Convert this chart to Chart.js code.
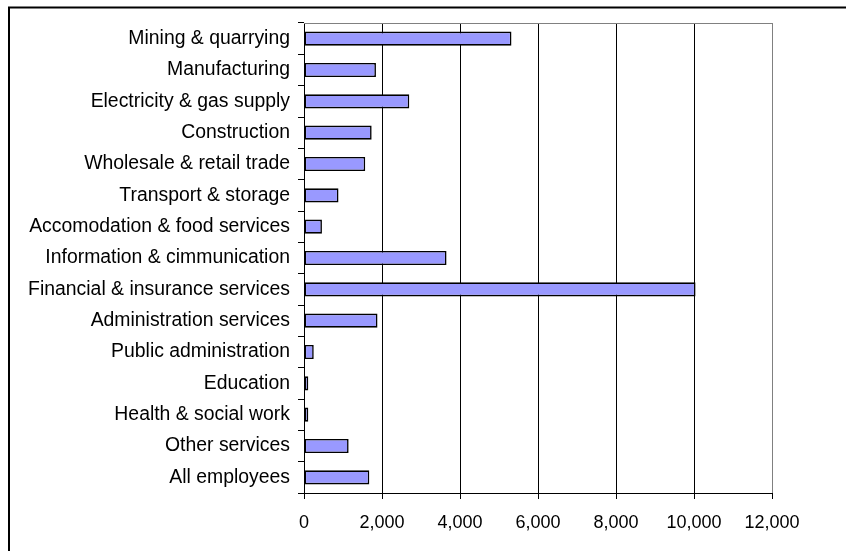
<!DOCTYPE html>
<html>
<head>
<meta charset="utf-8">
<script src="https://cdn.jsdelivr.net/npm/chart.js@4/dist/chart.umd.min.js"></script>
<style>
  html, body { margin: 0; padding: 0; background: #fff; overflow: hidden; }
  #wrap { width: 846px; height: 551px; }
</style>
</head>
<body>
<div id="wrap"><canvas id="myChart" width="846" height="551"></canvas></div>
<script>
  var sectors = [
    "Mining & quarrying",
    "Manufacturing",
    "Electricity & gas supply",
    "Construction",
    "Wholesale & retail trade",
    "Transport & storage",
    "Accomodation & food services",
    "Information & cimmunication",
    "Financial & insurance services",
    "Administration services",
    "Public administration",
    "Education",
    "Health & social work",
    "Other services",
    "All employees"
  ];
  var values = [5320, 1845, 2700, 1735, 1570, 885, 460, 3655, 10040, 1885, 250, 110, 110, 1145, 1675];
  var xTicks = [0, 2000, 4000, 6000, 8000, 10000, 12000];

  var fontFamily = "'Liberation Sans', Arial, sans-serif";

  // outer frame plus the grey top/right edge of the plot area
  var framePlugin = {
    id: 'frame',
    beforeDraw: function (chart) {
      var c = chart.ctx;
      c.save();
      c.strokeStyle = '#000';
      c.lineWidth = 2;
      c.beginPath();
      c.moveTo(9, 560);
      c.lineTo(9, 7.5);
      c.lineTo(860, 7.5);
      c.stroke();
      c.restore();
    },
    afterDatasetsDraw: function (chart) {
      var a = chart.chartArea;
      var c = chart.ctx;
      c.save();
      c.strokeStyle = '#808080';
      c.lineWidth = 1;
      c.beginPath();
      c.moveTo(a.left, Math.round(a.top) + 0.5);
      c.lineTo(Math.round(a.right) + 0.5, Math.round(a.top) + 0.5);
      c.lineTo(Math.round(a.right) + 0.5, a.bottom);
      c.stroke();
      c.restore();
    }
  };

  var ctx = document.getElementById('myChart');
  var myChart = new Chart(ctx, {
    type: 'bar',
    data: {
      labels: sectors,
      datasets: [{
        data: values,
        backgroundColor: '#9999ff',
        borderColor: '#000',
        borderWidth: 1.6,
        borderSkipped: false,
        barPercentage: 0.45,
        categoryPercentage: 1
      }]
    },
    options: {
      indexAxis: 'y',
      responsive: false,
      animation: false,
      layout: { padding: { top: 23, right: 74, bottom: 0, left: 0 } },
      plugins: {
        legend: { display: false },
        tooltip: { enabled: false }
      },
      scales: {
        x: {
          min: 0,
          max: 12000,
          afterBuildTicks: function (scale) {
            scale.ticks = xTicks.map(function (v) { return { value: v }; });
          },
          afterFit: function (scale) { scale.height = 58; },
          ticks: {
            color: '#000',
            padding: 13,
            font: { family: fontFamily, size: 18 },
            callback: function (v) { return v.toLocaleString('en-US'); }
          },
          grid: {
            color: function (c) { return c.index === xTicks.length - 1 ? '#808080' : '#000'; },
            tickColor: '#000',
            tickLength: 6,
            lineWidth: 1
          },
          border: { display: true, color: '#000', width: 1 }
        },
        y: {
          afterFit: function (scale) { scale.width = 304; },
          ticks: {
            color: '#000',
            padding: 8,
            font: { family: fontFamily, size: 19.4 }
          },
          grid: {
            offset: true,
            drawOnChartArea: false,
            tickColor: '#000',
            tickLength: 6
          },
          border: { display: true, color: '#000', width: 1 }
        }
      }
    },
    plugins: [framePlugin]
  });
</script>
</body>
</html>
